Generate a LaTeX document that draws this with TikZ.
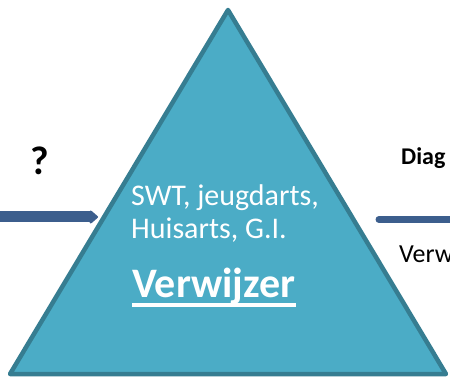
\documentclass[tikz,border=0pt]{standalone}
\usepackage{fontspec}
\setmainfont{Carlito}
\usetikzlibrary{arrows.meta}
\definecolor{trifill}{HTML}{4BACC6}
\definecolor{triline}{HTML}{367D91}
\definecolor{arrowblue}{HTML}{3C5E8D}
\begin{document}
\begin{tikzpicture}[x=1pt,y=-1pt,
  lbl/.style={inner sep=0pt,anchor=base west}]
  \useasboundingbox (0,0) rectangle (450,382);
  \clip (0,0) rectangle (450,382);
  \coordinate (top) at (228,10);
  \coordinate (bl) at (10,374);
  \coordinate (br) at (446,374);
  \draw[triline,line width=4.5pt,line join=round,fill=trifill] (top) -- (bl) -- (br) -- cycle;
  \node[lbl,text=white,font=\fontsize{30}{36}\selectfont] (swt) at (131,206) {SWT, jeugdarts,};
  \node[lbl,text=white,font=\fontsize{30}{36}\selectfont] (huis) at (131,239) {Huisarts, G.I.};
  \node[lbl,text=white,font=\fontsize{42}{50}\selectfont\bfseries] (verw) at (132,298) {Verwijzer};
  \draw[white,line width=3.5pt] ([yshift=-7pt]verw.base west) -- ([yshift=-7pt]verw.base east);
  \node[lbl,font=\fontsize{40}{46}\selectfont\bfseries] (vraag) at (30,175) {?};
  \node[lbl,font=\fontsize{24}{28}\selectfont\bfseries] (diag) at (401,165) {Diag};
  \node[lbl,font=\fontsize{26}{30}\selectfont] (verw2) at (399,262) {Verw};
  \coordinate (in) at (0,217);
  \coordinate (inend) at (98,217);
  \coordinate (out) at (379,219.5);
  \coordinate (outend) at (452,219.5);
  \draw[arrowblue,line width=11pt,-{Triangle[length=9pt,width=15pt,round]}] (in) -- (inend);
  \draw[arrowblue,line width=7pt,line cap=round] (out) -- (outend);
\end{tikzpicture}
\end{document}
